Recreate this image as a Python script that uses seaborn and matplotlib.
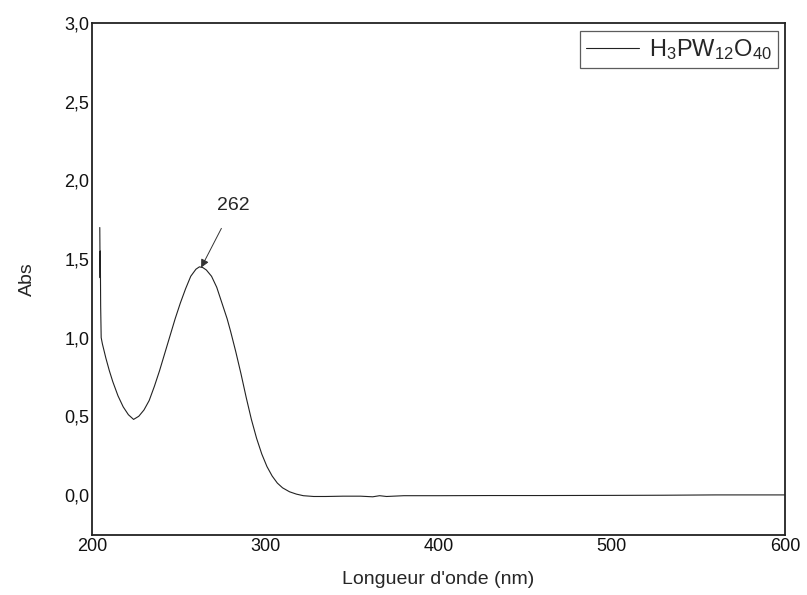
import numpy as np
import pandas as pd
import seaborn as sns
import matplotlib
matplotlib.use("Agg")
import matplotlib.pyplot as plt
from matplotlib.ticker import FuncFormatter, MultipleLocator

# UV-Vis spectrum of H3PW12O40
wavelength = [204.5, 204.7, 204.8, 205.0, 205.3, 206, 208, 210, 212, 215, 218, 221,
              224, 227, 230, 233, 236, 239, 242, 245, 248, 251, 254, 257,
              260, 262, 264, 266, 269, 272, 275, 278, 280, 283, 286, 289,
              292, 295, 298, 301, 304, 307, 310, 314, 318, 322, 328, 335, 345,
              355, 362, 366, 370, 380, 400, 430, 460, 500, 530, 560, 600]
absorbance = [1.70, 1.38, 1.55, 1.20, 1.00, 0.96, 0.87, 0.79, 0.72, 0.63, 0.56, 0.51,
              0.48, 0.50, 0.54, 0.60, 0.69, 0.79, 0.90, 1.01, 1.12, 1.22, 1.31, 1.39,
              1.435, 1.45, 1.445, 1.43, 1.39, 1.32, 1.22, 1.12, 1.04, 0.91, 0.77, 0.62,
              0.48, 0.36, 0.26, 0.18, 0.12, 0.075, 0.045, 0.02, 0.005, -0.005, -0.01, -0.01, -0.008,
              -0.008, -0.012, -0.005, -0.01, -0.005, -0.005, -0.004, -0.004, -0.003, -0.002, 0.0, 0.0]

peak_nm = 262
peak_abs = 1.45
series_label = r"H$_3$PW$_{12}$O$_{40}$"

df = pd.DataFrame({"nm": wavelength, "abs": absorbance})

sns.set_style("white")
plt.rcParams["font.family"] = ["Liberation Sans", "DejaVu Sans"]
plt.rcParams["mathtext.fontset"] = "custom"
plt.rcParams["mathtext.rm"] = "Liberation Sans"
plt.rcParams["mathtext.it"] = "Liberation Sans"
plt.rcParams["mathtext.bf"] = "Liberation Sans:bold"

fig = plt.figure(figsize=(8.07, 5.95), dpi=100)
ax = fig.add_axes([0.114, 0.1008, 0.8587, 0.8605])

sns.lineplot(data=df, x="nm", y="abs", ax=ax, color="#222222", linewidth=0.8,
             sort=False, label=series_label)

ax.set_xlim(200, 600)
ax.set_ylim(-0.255, 3.0)
ax.xaxis.set_major_locator(MultipleLocator(100))
ax.yaxis.set_major_locator(MultipleLocator(0.5))
ax.yaxis.set_major_formatter(FuncFormatter(lambda v, p: f"{v:.1f}".replace(".", ",")))
ax.tick_params(length=0, pad=2, labelsize=13, colors="#111111")
for s in ax.spines.values():
    s.set_visible(True)
    s.set_color("#222222")
    s.set_linewidth(1.3)

ax.set_xlabel("Longueur d'onde (nm)", fontsize=14, labelpad=12)
ax.set_ylabel("Abs", fontsize=14, labelpad=20)

ax.annotate(f"{peak_nm}", xy=(peak_nm + 1, peak_abs - 0.005), xytext=(281.5, 1.84),
            fontsize=14, ha="center", va="center",
            arrowprops=dict(arrowstyle="-|>", color="#333333", lw=0.7,
                            shrinkA=9, shrinkB=0, mutation_scale=12))

leg = ax.legend(loc="upper right", fontsize=17, frameon=True, fancybox=False,
                handlelength=2.25, handletextpad=0.45, borderpad=0.25,
                borderaxespad=0, bbox_to_anchor=(0.99, 0.984))
leg.get_frame().set_edgecolor("#333333")
leg.get_frame().set_linewidth(0.9)

fig.savefig("out.png", dpi=100)
